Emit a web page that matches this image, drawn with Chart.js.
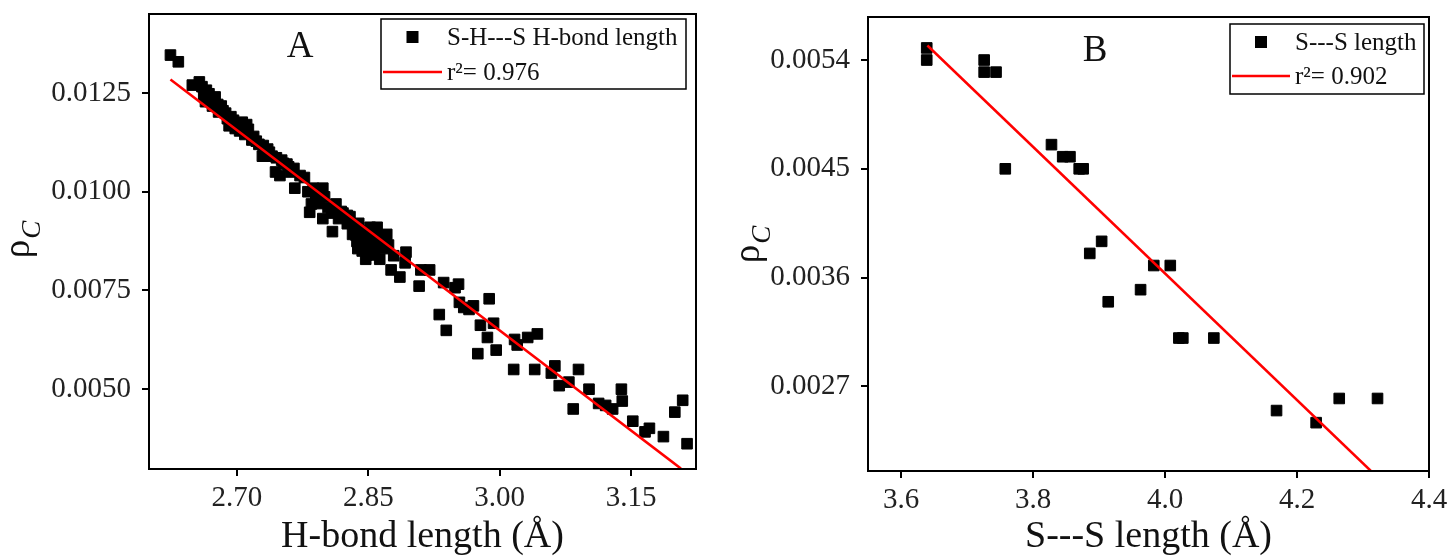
<!DOCTYPE html>
<html>
<head>
<meta charset="utf-8">
<script src="https://cdn.jsdelivr.net/npm/chart.js@4.4.0/dist/chart.umd.min.js"></script>
<style>
  html, body { margin: 0; padding: 0; background: #fff; }
  #wrap { position: relative; width: 1447px; height: 556px; overflow: hidden; }
  canvas { position: absolute; top: 0; }
  #chartA { left: 0; }
  #chartB { left: 720px; }
</style>
</head>
<body>
<div id="wrap">
  <canvas id="chartA" width="720" height="556"></canvas>
  <canvas id="chartB" width="727" height="556"></canvas>
</div>
<script>
// PANEL A : S-H---S H-bond length
const hbondLength = [
  2.624, 2.633, 2.649, 2.657, 2.660, 2.662, 2.665, 2.667, 2.668, 2.671,
  2.672, 2.675, 2.678, 2.682, 2.684, 2.687, 2.691, 2.693, 2.696, 2.700,
  2.701, 2.703, 2.706, 2.709, 2.711, 2.713, 2.717, 2.719, 2.722, 2.725,
  2.729, 2.730, 2.735, 2.737, 2.740, 2.744, 2.745, 2.749, 2.751, 2.753,
  2.757, 2.759, 2.761, 2.765, 2.766, 2.772, 2.777, 2.781, 2.783, 2.785,
  2.787, 2.790, 2.794, 2.798, 2.798, 2.800, 2.804, 2.808, 2.809, 2.813,
  2.816, 2.819, 2.821, 2.826, 2.826, 2.829, 2.832, 2.834, 2.836, 2.837,
  2.838, 2.839, 2.840, 2.842, 2.843, 2.845, 2.846, 2.847, 2.848, 2.850,
  2.852, 2.853, 2.855, 2.857, 2.858, 2.860, 2.861, 2.863, 2.865, 2.866,
  2.868, 2.869, 2.871, 2.873, 2.876, 2.879, 2.886, 2.892, 2.893, 2.908,
  2.910, 2.920, 2.931, 2.936, 2.939, 2.949, 2.953, 2.954, 2.959, 2.965,
  2.970, 2.975, 2.978, 2.986, 2.988, 2.993, 2.996, 3.016, 3.017, 3.020,
  3.032, 3.040, 3.043, 3.059, 3.063, 3.068, 3.079, 3.084, 3.090, 3.102,
  3.113, 3.121, 3.129, 3.139, 3.140, 3.152, 3.166, 3.171, 3.187, 3.200,
  3.209, 3.214, 2.664, 2.679, 2.689, 2.698, 2.733
];
const hbondRho = [
  0.01346, 0.01329, 0.01270, 0.01278, 0.01266, 0.01245, 0.01257, 0.01230, 0.01248, 0.01235,
  0.01217, 0.01240, 0.01221, 0.01217, 0.01205, 0.01199, 0.01167, 0.01190, 0.01181, 0.01172,
  0.01162, 0.01154, 0.01176, 0.01145, 0.01170, 0.01158, 0.01131, 0.01140, 0.01128, 0.01120,
  0.01090, 0.01117, 0.01108, 0.01100, 0.01090, 0.01050, 0.01086, 0.01041, 0.01080, 0.01072,
  0.01070, 0.01063, 0.01050, 0.01059, 0.01009, 0.01041, 0.01036, 0.01000, 0.00948, 0.00969,
  0.01009, 0.00990, 0.00970, 0.01009, 0.00932, 0.00987, 0.00960, 0.00946, 0.00899, 0.00969,
  0.00932, 0.00950, 0.00946, 0.00919, 0.00940, 0.00937, 0.00892, 0.00910, 0.00890, 0.00874,
  0.00856, 0.00920, 0.00868, 0.00901, 0.00850, 0.00883, 0.00900, 0.00829, 0.00840, 0.00865,
  0.00910, 0.00875, 0.00856, 0.00840, 0.00892, 0.00910, 0.00870, 0.00829, 0.00860, 0.00883,
  0.00856, 0.00890, 0.00892, 0.00865, 0.00802, 0.00838, 0.00784, 0.00820, 0.00847, 0.00761,
  0.00802, 0.00802, 0.00689, 0.00770, 0.00649, 0.00757, 0.00766, 0.00720, 0.00707, 0.00702,
  0.00711, 0.00590, 0.00662, 0.00631, 0.00729, 0.00667, 0.00599, 0.00550, 0.00626, 0.00612,
  0.00631, 0.00550, 0.00640, 0.00541, 0.00559, 0.00509, 0.00518, 0.00450, 0.00550, 0.00500,
  0.00464, 0.00459, 0.00450, 0.00500, 0.00470, 0.00419, 0.00392, 0.00401, 0.00380, 0.00442,
  0.00472, 0.00362, 0.01228, 0.01202, 0.01185, 0.01160, 0.01095
];
const hbondFitX = [2.624, 3.207];
const hbondFitY = [0.01284, 0.00299];
const hbondXTicks = [2.70, 2.85, 3.00, 3.15];
const hbondYTicks = [0.0050, 0.0075, 0.0100, 0.0125];

// PANEL B : S---S length
const ssLength = [
  3.639, 3.639, 3.726, 3.726, 3.744, 3.758, 3.828, 3.845, 3.856, 3.870,
  3.876, 3.886, 3.904, 3.914, 3.963, 3.983, 4.008, 4.021, 4.027, 4.074,
  4.169, 4.229, 4.264, 4.322
];
const ssRho = [
  0.00550, 0.00540, 0.00540, 0.00530, 0.00530, 0.00450, 0.00470, 0.00460, 0.00460, 0.00450,
  0.00450, 0.00380, 0.00390, 0.00340, 0.00350, 0.00370, 0.00370, 0.00310, 0.00310, 0.00310,
  0.00250, 0.00240, 0.00260, 0.00260
];
const ssFitX = [3.640, 4.312];
const ssFitY = [0.00552, 0.00200];
const ssXTicks = [3.6, 3.8, 4.0, 4.2, 4.4];
const ssYTicks = [0.0027, 0.0036, 0.0045, 0.0054];

const SERIF = "'Liberation Serif', 'Times New Roman', serif";

// frame, panel letter, rho title and the boxed legend
const decorPlugin = {
  id: "decor",
  afterDraw(chart, args, o) {
    const ctx = chart.ctx;
    const a = chart.chartArea;
    ctx.save();
    ctx.strokeStyle = "#000";
    ctx.lineWidth = 2;
    ctx.strokeRect(a.left, a.top, a.right - a.left, a.bottom - a.top);

    // panel letter
    ctx.fillStyle = "#111";
    ctx.font = "37px " + SERIF;
    ctx.textAlign = "center";
    ctx.textBaseline = "alphabetic";
    ctx.fillText(o.letter, o.letterX, o.letterY);

    // y title  rho with italic subscript C
    ctx.save();
    ctx.translate(o.rhoX, o.rhoY);
    ctx.rotate(-Math.PI / 2);
    ctx.font = "37px " + SERIF;
    const wr = ctx.measureText("ρ").width;
    ctx.font = "italic 27px " + SERIF;
    const wc = ctx.measureText("C").width;
    const x0 = -(wr + wc) / 2;
    ctx.textAlign = "left";
    ctx.font = "37px " + SERIF;
    ctx.fillText("ρ", x0, 0);
    ctx.font = "italic 27px " + SERIF;
    ctx.fillText("C", x0 + wr + 1, 11);
    ctx.restore();

    // legend
    const b = o.legendBox;
    ctx.fillStyle = "#fff";
    ctx.fillRect(b[0], b[1], b[2] - b[0], b[3] - b[1]);
    ctx.strokeStyle = "#000";
    ctx.lineWidth = 1.5;
    ctx.strokeRect(b[0], b[1], b[2] - b[0], b[3] - b[1]);
    const ds = chart.data.datasets;
    ctx.font = "25px " + SERIF;
    ctx.textAlign = "left";
    ctx.textBaseline = "middle";
    ds.forEach((d, i) => {
      const y = o.legendRows[i];
      if (d.showLine) {
        ctx.strokeStyle = d.borderColor;
        ctx.lineWidth = 2.5;
        ctx.beginPath();
        ctx.moveTo(o.legendLine[0], y);
        ctx.lineTo(o.legendLine[1], y);
        ctx.stroke();
      } else {
        ctx.fillStyle = "#000";
        const mx = (o.legendLine[0] + o.legendLine[1]) / 2;
        ctx.fillRect(mx - 6, y - 6, 12, 12);
      }
      ctx.fillStyle = "#111";
      ctx.fillText(d.label, o.legendText, y + 1);
    });
    ctx.restore();
  }
};

function makePanel(canvasId, p) {
  const pts = p.xs.map((x, i) => ({ x: x, y: p.ys[i] }));
  const fit = p.fitX.map((x, i) => ({ x: x, y: p.fitY[i] }));
  const tickFont = { family: SERIF, size: 29 };
  const gridOpts = {
    display: true, drawOnChartArea: false, drawTicks: true,
    tickLength: 7, tickWidth: 2, tickColor: "#000", color: "#000", lineWidth: 2
  };
  const noPad = s => { s.paddingTop = 0; s.paddingBottom = 0; s.paddingLeft = 0; s.paddingRight = 0; };
  return new Chart(document.getElementById(canvasId), {
    type: "scatter",
    data: {
      datasets: [
        {
          label: p.pointLabel,
          data: pts,
          pointStyle: "rect",
          pointRadius: 7.5,
          pointHoverRadius: 7.5,
          backgroundColor: "#000",
          borderColor: "#000",
          borderWidth: 1,
          order: 1
        },
        {
          label: p.fitLabel,
          data: fit,
          showLine: true,
          pointRadius: 0,
          borderColor: "#ff0000",
          borderWidth: 2.5,
          fill: false,
          order: 0
        }
      ]
    },
    options: {
      responsive: false,
      animation: false,
      devicePixelRatio: 1,
      layout: { padding: { top: p.top, right: p.right, left: 0, bottom: 0 } },
      plugins: {
        legend: { display: false },
        tooltip: { enabled: false },
        decor: p.decor
      },
      scales: {
        x: {
          type: "linear",
          min: p.xMin,
          max: p.xMax,
          afterBuildTicks: s => { s.ticks = p.xTicks.map(v => ({ value: v })); },
          afterFit: s => { s.height = p.xAxisH; noPad(s); },
          ticks: {
            autoSkip: false, maxRotation: 0, minRotation: 0, padding: 5,
            color: "#222", font: tickFont,
            callback: v => Number(v).toFixed(p.xDec)
          },
          grid: gridOpts,
          border: { display: false },
          title: {
            display: true, text: p.xTitle, color: "#111",
            font: { family: SERIF, size: 38, lineHeight: 1 },
            padding: { top: 0, bottom: 0 }
          }
        },
        y: {
          type: "linear",
          min: p.yMin,
          max: p.yMax,
          afterBuildTicks: s => { s.ticks = p.yTicks.map(v => ({ value: v })); },
          afterFit: s => { s.width = p.yAxisW; noPad(s); },
          ticks: {
            autoSkip: false, padding: 11,
            color: "#222", font: tickFont,
            callback: v => Number(v).toFixed(4)
          },
          grid: gridOpts,
          border: { display: false },
          title: { display: false }
        }
      }
    },
    plugins: [decorPlugin]
  });
}

makePanel("chartA", {
  xs: hbondLength, ys: hbondRho, fitX: hbondFitX, fitY: hbondFitY,
  xTicks: hbondXTicks, yTicks: hbondYTicks,
  pointLabel: "S-H---S H-bond length", fitLabel: "r²= 0.976",
  xTitle: "H-bond length (Å)", xDec: 2,
  xMin: 2.5995, xMax: 3.2242, yMin: 0.00298, yMax: 0.0145,
  top: 14, right: 24, yAxisW: 149, xAxisH: 87,
  decor: {
    letter: "A", letterX: 300, letterY: 57,
    rhoX: 29, rhoY: 240,
    legendBox: [381, 19, 686, 89], legendRows: [37, 72],
    legendLine: [383, 442], legendText: 447
  }
});

makePanel("chartB", {
  xs: ssLength, ys: ssRho, fitX: ssFitX, fitY: ssFitY,
  xTicks: ssXTicks, yTicks: ssYTicks,
  pointLabel: "S---S length", fitLabel: "r²= 0.902",
  xTitle: "S---S length (Å)", xDec: 1,
  xMin: 3.55, xMax: 4.40, yMin: 0.0020, yMax: 0.005756,
  top: 17, right: 18, yAxisW: 148, xAxisH: 85,
  decor: {
    letter: "B", letterX: 375, letterY: 61,
    rhoX: 39, rhoY: 245,
    legendBox: [510, 24, 704, 94], legendRows: [42, 76],
    legendLine: [512, 570], legendText: 575
  }
});
</script>
</body>
</html>
